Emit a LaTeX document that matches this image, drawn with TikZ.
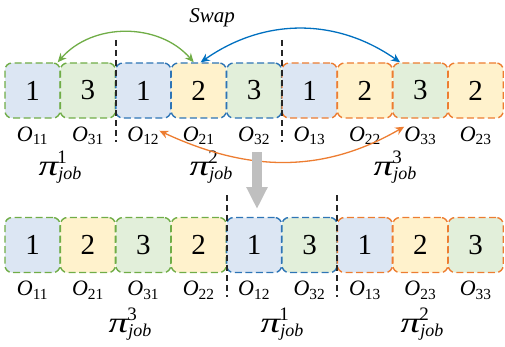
\documentclass[tikz,border=0pt]{standalone}
\usepackage{amsmath}
\usepackage{graphicx}
\usepackage{fontspec}
\setmainfont{Liberation Serif}
\usepackage{tikz}
\usepackage{xcolor}
\usetikzlibrary{arrows.meta, positioning, calc}
\definecolor{cGreen}{RGB}{112,173,71}
\definecolor{cBlue}{RGB}{46,117,182}
\definecolor{cOrange}{RGB}{237,125,49}
\definecolor{cArrowBlue}{RGB}{0,112,192}
\definecolor{fBlue}{RGB}{220,230,243}
\definecolor{fYellow}{RGB}{255,242,204}
\definecolor{fGreen}{RGB}{226,239,218}
\tikzset{
	opbox/.style   ={rectangle, rounded corners=7pt, line width=1.4pt, dash pattern=on 7pt off 3.5pt, minimum width=55pt, minimum height=55pt, inner sep=0pt, font=\fontsize{29}{30}\selectfont},
	oplabel/.style ={font=\itshape\fontsize{22}{23}\selectfont, inner sep=0pt, anchor=north},
	pilabel/.style ={inner sep=0pt},
	divider/.style ={line width=1.1pt, black!85, dash pattern=on 6pt off 4pt},
	swaparrow/.style={{Stealth[length=9pt,width=8pt]}-{Stealth[length=9pt,width=8pt]}, line width=1.3pt},
	movearrow/.style={-{Triangle[length=22pt,width=20pt]}, line width=10pt, black!25},
}
\newcommand{\pijob}[1]{{\fontsize{29}{29}\selectfont\itshape\scalebox{1.35}[1]{π}}\rlap{\kern-1pt\raisebox{12pt}{\fontsize{19}{19}\selectfont #1}}\raisebox{-4pt}{\fontsize{18}{18}\selectfont\itshape job}}

\begin{document}
\begin{tikzpicture}[x=1pt, y=1pt]
	\useasboundingbox (0,0) rectangle (505,346);
	% sequence before the swap
	\foreach \n/\v/\c/\f [count=\i] in {11/1/cGreen/fBlue, 31/3/cGreen/fGreen, 12/1/cBlue/fBlue, 21/2/cBlue/fYellow, 32/3/cBlue/fGreen, 13/1/cOrange/fBlue, 22/2/cOrange/fYellow, 33/3/cOrange/fGreen, 23/2/cOrange/fYellow}{
		\node[opbox, draw=\c, fill=\f] (t\i) at ({32.5+55.4*(\i-1)},255.5) {\v};
		\node[oplabel] (lt\i) at ([yshift=-8pt]t\i.south) {O\textsubscript{\upshape\n}};
	}
	% sequence after the swap
	\foreach \n/\v/\c/\f [count=\i] in {11/1/cGreen/fBlue, 21/2/cGreen/fYellow, 31/3/cGreen/fGreen, 22/2/cGreen/fYellow, 12/1/cBlue/fBlue, 32/3/cBlue/fGreen, 13/1/cOrange/fBlue, 23/2/cOrange/fYellow, 33/3/cOrange/fGreen}{
		\node[opbox, draw=\c, fill=\f] (b\i) at ({32.5+55.4*(\i-1)},101) {\v};
		\node[oplabel] (lb\i) at ([yshift=-8pt]b\i.south) {O\textsubscript{\upshape\n}};
	}
	% job borders
	\draw[divider] (116,306) -- (116,204);
	\draw[divider] (282,306) -- (282,204);
	\draw[divider] (227,151) -- (227,49);
	\draw[divider] (337,151) -- (337,49);
	% job labels
	\node[pilabel] (pt1) at (60,179) {\pijob{1}};
	\node[pilabel] (pt2) at (211,179) {\pijob{2}};
	\node[pilabel] (pt3) at (395,179) {\pijob{3}};
	\node[pilabel] (pb3) at (130,22) {\pijob{3}};
	\node[pilabel] (pb1) at (282,22) {\pijob{1}};
	\node[pilabel] (pb2) at (422,22) {\pijob{2}};
	% swaps
	\node[font=\itshape\fontsize{21}{22}\selectfont] (swap) at (212,328) {Swap};
	\draw[swaparrow, cGreen] ([xshift=-5pt]t4.north) to[out=131, in=49] ([xshift=-3pt]t1.north east);
	\draw[swaparrow, cArrowBlue] ([xshift=2pt]t4.north) to[out=35, in=145] ([xshift=8pt]t8.north west);
	\draw[swaparrow, cOrange] ([yshift=5pt]lt3.east) to[out=-25, in=-150] (lt8.north west);
	% move to the new sequence
	\coordinate (dn1) at (257,194);
	\coordinate (dn2) at (257,137);
	\draw[movearrow] (dn1) -- (dn2);
\end{tikzpicture}
\end{document}
